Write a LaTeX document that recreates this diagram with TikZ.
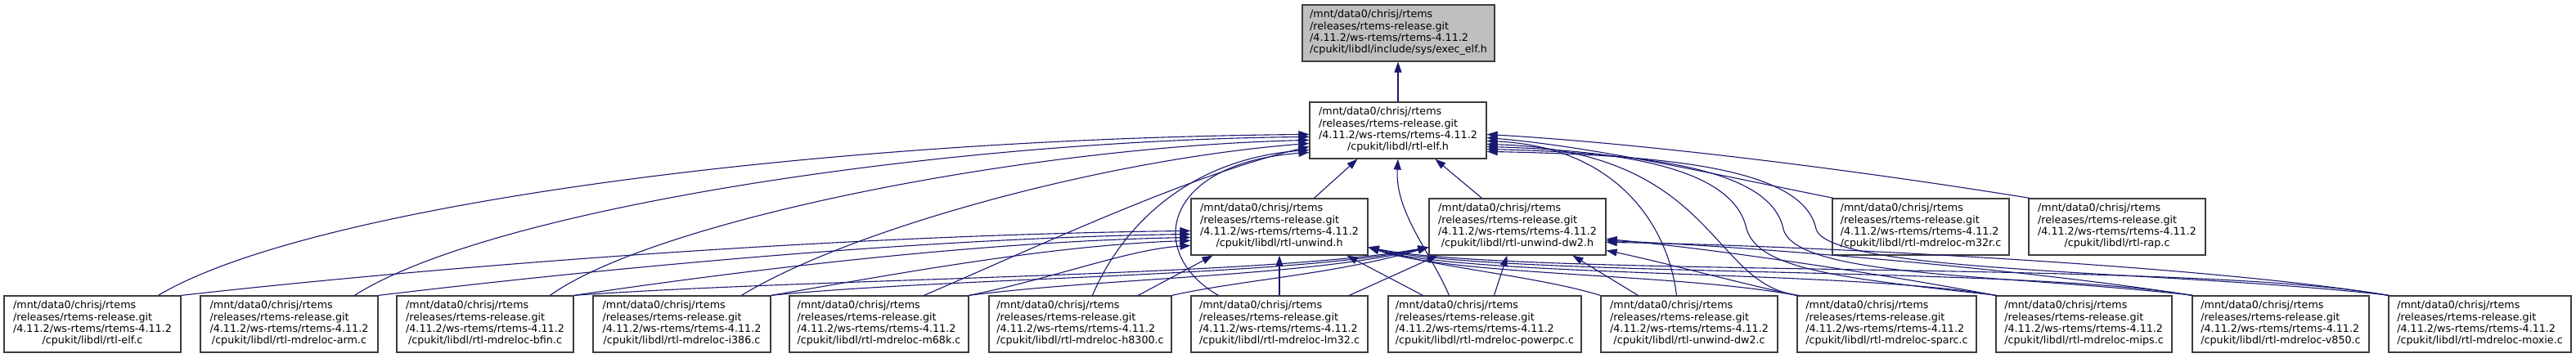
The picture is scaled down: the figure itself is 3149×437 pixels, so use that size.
\documentclass[tikz,border=0pt]{standalone}
\usepackage{fontspec}
\setmainfont{DejaVu Sans}
\usetikzlibrary{arrows.meta,calc}
\definecolor{edgec}{RGB}{25,25,112}
\definecolor{boxc}{RGB}{60,60,60}
\definecolor{rootc}{RGB}{191,191,191}
\newcommand{\dxlbl}[1]{\begin{tabular}{@{}l@{}}/mnt/data0/chrisj/rtems\\/releases/rtems-release.git\\/4.11.2/ws-rtems/rtems-4.11.2\\\multicolumn{1}{@{}c@{}}{#1}\end{tabular}}
\begin{document}
\begin{tikzpicture}[x=1pt,y=-1pt,
  box/.style={draw=boxc, line width=1.2pt, fill=white, rectangle, inner sep=0pt,
    minimum height=69pt, font=\fontsize{12.7}{14.4}\selectfont},
  dep/.style={draw=edgec, line width=1.1pt, -{Triangle[length=13pt,width=9pt]}}]
\useasboundingbox (0,0) rectangle (3149,437);
% nodes
\node[box, fill=rootc, minimum width=235pt] (top) at (1709.5,40.5) {\dxlbl{/cpukit/libdl/include/sys/exec\_elf.h}};
\node[box, minimum width=216pt] (elfh) at (1709,159.5) {\dxlbl{/cpukit/libdl/rtl-elf.h}};
\node[box, minimum width=216pt] (unwh) at (1564,277.5) {\dxlbl{/cpukit/libdl/rtl-unwind.h}};
\node[box, minimum width=216pt] (dw2h) at (1855,277.5) {\dxlbl{/cpukit/libdl/rtl-unwind-dw2.h}};
\node[box, minimum width=216pt] (m32r) at (2348,277.5) {\dxlbl{/cpukit/libdl/rtl-mdreloc-m32r.c}};
\node[box, minimum width=216pt] (rap) at (2588,277.5) {\dxlbl{/cpukit/libdl/rtl-rap.c}};
\node[box, minimum width=216pt] (elfc) at (113,396.5) {\dxlbl{/cpukit/libdl/rtl-elf.c}};
\node[box, minimum width=217pt] (arm) at (353.5,396.5) {\dxlbl{/cpukit/libdl/rtl-mdreloc-arm.c}};
\node[box, minimum width=216pt] (bfin) at (593,396.5) {\dxlbl{/cpukit/libdl/rtl-mdreloc-bfin.c}};
\node[box, minimum width=217pt] (i386) at (833.5,396.5) {\dxlbl{/cpukit/libdl/rtl-mdreloc-i386.c}};
\node[box, minimum width=219pt] (m68k) at (1074.5,396.5) {\dxlbl{/cpukit/libdl/rtl-mdreloc-m68k.c}};
\node[box, minimum width=223pt] (h8300) at (1320.5,396.5) {\dxlbl{/cpukit/libdl/rtl-mdreloc-h8300.c}};
\node[box, minimum width=216pt] (lm32) at (1564,396.5) {\dxlbl{/cpukit/libdl/rtl-mdreloc-lm32.c}};
\node[box, minimum width=236pt] (ppc) at (1815,396.5) {\dxlbl{/cpukit/libdl/rtl-mdreloc-powerpc.c}};
\node[box, minimum width=216pt] (dw2c) at (2065,396.5) {\dxlbl{/cpukit/libdl/rtl-unwind-dw2.c}};
\node[box, minimum width=219pt] (sparc) at (2306.5,396.5) {\dxlbl{/cpukit/libdl/rtl-mdreloc-sparc.c}};
\node[box, minimum width=215pt] (mips) at (2547.5,396.5) {\dxlbl{/cpukit/libdl/rtl-mdreloc-mips.c}};
\node[box, minimum width=216pt] (v850) at (2788,396.5) {\dxlbl{/cpukit/libdl/rtl-mdreloc-v850.c}};
\node[box, minimum width=223pt] (moxie) at (3031.5,396.5) {\dxlbl{/cpukit/libdl/rtl-mdreloc-moxie.c}};

% rtl-elf.h -> exec_elf.h
\draw[dep] (elfh.north) -- (elfh.north |- top.south);

% into rtl-elf.h, left side
\draw[dep] ($(elfc.north west)+(189,0)$) .. controls (380,250) and (1000,170) .. ($(elfh.north west)+(0,40)$);
\draw[dep] ($(arm.north west)+(189,0)$) .. controls (600,255) and (1150,172) .. ($(elfh.north west)+(0,43)$);
\draw[dep] ($(bfin.north west)+(188,0)$) .. controls (800,270) and (1250,180) .. ($(elfh.north west)+(0,47)$);
\draw[dep] ($(i386.north west)+(182,0)$) .. controls (1040,280) and (1350,195) .. ($(elfh.north west)+(0,51)$);
\draw[dep] ($(m68k.north west)+(165,0)$) .. controls (1250,310) and (1450,215) .. ($(elfh.north west)+(0,55)$);
\draw[dep] ($(h8300.north west)+(127,0)$) .. controls (1370,280) and (1450,195) .. ($(elfh.north west)+(0,59)$);
\draw[dep] ($(lm32.north west)+(34,0)$) .. controls (1400,310) and (1420,200) .. ($(elfh.north west)+(0,62)$);

% into rtl-elf.h, bottom
\draw[dep] ($(unwh.north west)+(151,0)$) -- ($(elfh.south west)+(59,0)$);
\draw[dep] ($(ppc.north west)+(75,0)$) .. controls (1750,310) and (1705,260) .. (elfh.south);
\draw[dep] ($(dw2h.north west)+(65,0)$) -- ($(elfh.south west)+(154,0)$);

% into rtl-elf.h, right side
\draw[dep] ($(rap.north west)+(2,0)$) .. controls (2250,205) and (2000,175) .. ($(elfh.north east)+(0,40)$);
\draw[dep] ($(m32r.north west)+(2,0)$) .. controls (2080,210) and (1950,180) .. ($(elfh.north east)+(0,44)$);
\draw[dep] ($(dw2c.north west)+(93,0)$) .. controls (2040,280) and (1980,180) .. ($(elfh.north east)+(0,48)$);
\draw[dep] ($(sparc.north west)+(3,0)$) .. controls (2090,350) and (2100,185) .. ($(elfh.north east)+(0,52)$);
\draw[dep] ($(mips.north west)+(2,0)$) .. controls (2250,340) and (2150,330) .. (2135,280) .. controls (2120,210) and (2000,185) .. ($(elfh.north east)+(0,55)$);
\draw[dep] ($(v850.north west)+(2,0)$) .. controls (2450,335) and (2195,340) .. (2180,280) .. controls (2165,210) and (2030,188) .. ($(elfh.north east)+(0,58)$);
\draw[dep] ($(moxie.north west)+(2,0)$) .. controls (2650,330) and (2235,335) .. (2220,280) .. controls (2205,210) and (2060,190) .. ($(elfh.north east)+(0,61)$);

% into rtl-unwind.h, left side
\draw[dep] (elfc.north east) .. controls (500,330) and (1000,288) .. ($(unwh.north west)+(0,40)$);
\draw[dep] (arm.north east) .. controls (700,333) and (1100,292) .. ($(unwh.north west)+(0,44)$);
\draw[dep] (bfin.north east) .. controls (880,335) and (1180,296) .. ($(unwh.north west)+(0,48)$);
\draw[dep] (i386.north east) .. controls (1080,338) and (1280,300) .. ($(unwh.north west)+(0,52)$);
\draw[dep] (m68k.north east) .. controls (1290,340) and (1380,305) .. ($(unwh.north west)+(0,58)$);
% into rtl-unwind.h, bottom
\draw[dep] ($(h8300.north west)+(183,0)$) -- ($(unwh.south west)+(27,0)$);
\draw[dep] (lm32.north) -- (unwh.south);
\draw[dep] ($(ppc.north west)+(43,0)$) -- ($(unwh.south west)+(191,0)$);
% into rtl-unwind.h, right side
\draw[dep] (dw2c.north west) .. controls (1880,338) and (1760,328) .. ($(unwh.north east)+(0,60)$);
\draw[dep] (sparc.north west) .. controls (2050,334) and (1780,338) .. ($(unwh.north east)+(0,60)$);
\draw[dep] (mips.north west) .. controls (2260,330) and (1800,340) .. ($(unwh.north east)+(0,60)$);
\draw[dep] (v850.north west) .. controls (2470,325) and (1830,340) .. ($(unwh.north east)+(0,60)$);
\draw[dep] (moxie.north west) .. controls (2680,318) and (1860,340) .. ($(unwh.north east)+(0,60)$);

% into rtl-unwind-dw2.h, left side
\draw[dep] (bfin.north east) .. controls (1000,340) and (1550,338) .. ($(dw2h.north west)+(0,60)$);
\draw[dep] (i386.north east) .. controls (1150,340) and (1580,338) .. ($(dw2h.north west)+(0,60)$);
\draw[dep] (m68k.north east) .. controls (1350,340) and (1600,338) .. ($(dw2h.north west)+(0,60)$);
\draw[dep] (h8300.north east) .. controls (1520,342) and (1630,336) .. ($(dw2h.north west)+(0,60)$);
% into rtl-unwind-dw2.h, bottom
\draw[dep] ($(lm32.north west)+(194,0)$) -- ($(dw2h.south west)+(11,0)$);
\draw[dep] ($(ppc.north west)+(130,0)$) -- ($(dw2h.south west)+(96,0)$);
\draw[dep] ($(dw2c.north west)+(46,0)$) -- ($(dw2h.south west)+(176,0)$);
% into rtl-unwind-dw2.h, right side
\draw[dep] (sparc.north west) .. controls (2120,345) and (2030,320) .. ($(dw2h.north east)+(0,64)$);
\draw[dep] (mips.north west) .. controls (2300,335) and (2100,305) .. ($(dw2h.north east)+(0,50)$);
\draw[dep] (v850.north west) .. controls (2480,330) and (2150,302) .. ($(dw2h.north east)+(0,52)$);
\draw[dep] (moxie.north west) .. controls (2700,325) and (2200,300) .. ($(dw2h.north east)+(0,54)$);
\end{tikzpicture}
\end{document}
